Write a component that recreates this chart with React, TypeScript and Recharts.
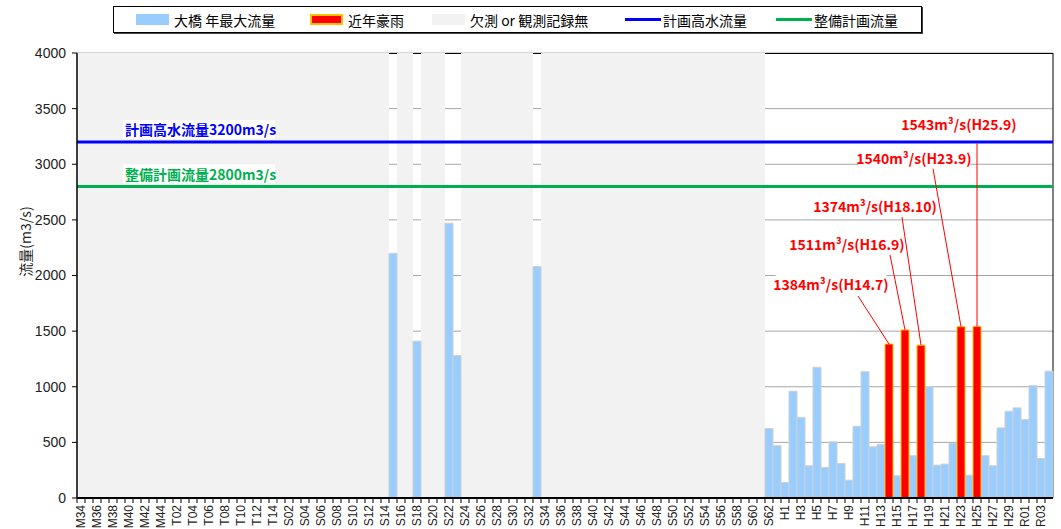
import React from "react";
import {
  BarChart,
  Bar,
  XAxis,
  YAxis,
  CartesianGrid,
  ReferenceLine,
  LabelList,
} from "recharts";

// 年（和暦）: M34(1901) 〜 R04(2022)
const meijiYears = ["M34", "M35", "M36", "M37", "M38", "M39", "M40", "M41", "M42", "M43", "M44", "M45"];
const taishoYears = ["T02", "T03", "T04", "T05", "T06", "T07", "T08", "T09", "T10", "T11", "T12", "T13", "T14", "T15"];
const showaYears = [
  "S02", "S03", "S04", "S05", "S06", "S07", "S08", "S09", "S10", "S11", "S12", "S13", "S14", "S15", "S16", "S17",
  "S18", "S19", "S20", "S21", "S22", "S23", "S24", "S25", "S26", "S27", "S28", "S29", "S30", "S31", "S32", "S33",
  "S34", "S35", "S36", "S37", "S38", "S39", "S40", "S41", "S42", "S43", "S44", "S45", "S46", "S47", "S48", "S49",
  "S50", "S51", "S52", "S53", "S54", "S55", "S56", "S57", "S58", "S59", "S60", "S61", "S62", "S63",
];
const heiseiYears = [
  "H1", "H2", "H3", "H4", "H5", "H6", "H7", "H8", "H9", "H10", "H11", "H12", "H13", "H14", "H15",
  "H16", "H17", "H18", "H19", "H20", "H21", "H22", "H23", "H24", "H25", "H26", "H27", "H28", "H29", "H30",
];
const reiwaYears = ["R01", "R02", "R03", "R04"];
const years = [...meijiYears, ...taishoYears, ...showaYears, ...heiseiYears, ...reiwaYears];

// 大橋 年最大流量 (m3/s)
const observedYears = [
  "S15", "S18", "S22", "S23", "S33",
  "S62", "S63", "H1", "H2", "H3", "H4", "H5", "H6", "H7", "H8", "H9", "H10", "H11", "H12", "H13",
  "H15", "H17", "H19", "H20", "H21", "H22", "H24", "H26", "H27", "H28", "H29", "H30",
  "R01", "R02", "R03", "R04",
];
const annualMax = [
  2200, 1410, 2470, 1280, 2080,
  625, 470, 140, 960, 725, 290, 1175, 275, 505, 310, 160, 645, 1135, 460, 480,
  200, 380, 1000, 295, 305, 490, 205, 380, 290, 630, 780, 810,
  705, 1010, 355, 1140,
];

// 近年豪雨
const heavyRainYears = ["H14", "H16", "H18", "H23", "H25"];
const heavyRainPeaks = [1384, 1511, 1374, 1540, 1543];
const heavyRainLabels = [
  "1384m³/s(H14.7)",
  "1511m³/s(H16.9)",
  "1374m³/s(H18.10)",
  "1540m³/s(H23.9)",
  "1543m³/s(H25.9)",
];

const yTicks = [0, 500, 1000, 1500, 2000, 2500, 3000, 3500, 4000];
const AXIS_MAX = 4000;
const PLAN_HIGH_WATER = 3200; // 計画高水流量
const PLAN_IMPROVEMENT = 2800; // 整備計画流量

// annotation placement relative to the top centre of each red bar
const rainLabelOffsets: Record<string, { lx: number; ly: number; tx: number; ty: number }> = {
  H14: { lx: -31, ly: -48, tx: -58, ty: -60 },
  H16: { lx: -15, ly: -75, tx: -58, ty: -86 },
  H18: { lx: -19, ly: -128, tx: -46, ty: -139 },
  H23: { lx: -28, ly: -158, tx: -47, ty: -169 },
  H25: { lx: 0, ly: -183, tx: -18, ty: -202 },
};

const JP_FONT = '"Noto Sans CJK JP", "Noto Sans", sans-serif';
const NUM_FONT = '"Liberation Sans", Arial, sans-serif';

const data = years.map((name) => {
  const oi = observedYears.indexOf(name);
  const ri = heavyRainYears.indexOf(name);
  const hasData = oi >= 0 || ri >= 0;
  return {
    name,
    flow: oi >= 0 ? annualMax[oi] : null,
    rain: ri >= 0 ? heavyRainPeaks[ri] : null,
    missing: hasData ? null : AXIS_MAX,
  };
});

const legendItems = [
  { label: "大橋 年最大流量", kind: "rect", fill: "#99CCFF", stroke: "#99CCFF", left: 22 },
  { label: "近年豪雨", kind: "rect", fill: "#FF0000", stroke: "#FFC000", left: 196 },
  { label: "欠測 or 観測記録無", kind: "rect", fill: "#F2F2F2", stroke: "#F2F2F2", left: 318 },
  { label: "計画高水流量", kind: "line", fill: "#0000FF", stroke: "#0000FF", left: 511 },
  { label: "整備計画流量", kind: "line", fill: "#00B050", stroke: "#00B050", left: 662 },
];

const YearTick = (props: any) => {
  const { x, y, payload, index } = props;
  const half = payload?.offset ?? 4;
  const i = payload?.index ?? index;
  return (
    <g>
      <line x1={x - half} y1={y} x2={x - half} y2={y + 5} stroke="#000" />
      {i % 2 === 0 && (
        <text
          x={x}
          y={y + 7}
          transform={`rotate(-90 ${x} ${y + 7})`}
          textAnchor="end"
          dominantBaseline="central"
          fontSize={12}
          fill="#222"
          fontFamily={NUM_FONT}
        >
          {payload.value}
        </text>
      )}
    </g>
  );
};

const PlanLabel = (props: any) => {
  const { viewBox, text, color } = props;
  if (!viewBox) return null;
  return (
    <g>
      <rect x={viewBox.x + 46} y={viewBox.y - 22} width={152} height={19} fill="#fff" />
      <text
        x={viewBox.x + 48}
        y={viewBox.y - 7}
        fill={color}
        fontSize={14}
        fontWeight="bold"
        fontFamily={JP_FONT}
      >
        {text}
      </text>
    </g>
  );
};

const RainLabel = (props: any) => {
  const vb = props.viewBox ?? props;
  const name = props.value;
  const i = heavyRainYears.indexOf(name);
  const off = rainLabelOffsets[name];
  if (i < 0 || !off || vb.x == null) return null;
  const cx = vb.x + vb.width / 2;
  const top = vb.y;
  const text = heavyRainLabels[i];
  const w = text.length * 7.4;
  return (
    <g>
      <line x1={cx} y1={top} x2={cx + off.lx} y2={top + off.ly} stroke="#FF0000" strokeWidth={1} />
      <rect x={cx + off.tx - w / 2} y={top + off.ty - 9} width={w} height={18} fill="#fff" />
      <text
        x={cx + off.tx}
        y={top + off.ty}
        textAnchor="middle"
        dominantBaseline="central"
        fill="#FF0000"
        fontSize={14}
        fontWeight="bold"
        fontFamily={JP_FONT}
      >
        {text}
      </text>
    </g>
  );
};

const YLabel = (props: any) => {
  const { viewBox } = props;
  if (!viewBox) return null;
  const cx = viewBox.x + 25;
  const cy = viewBox.y + viewBox.height / 2 - 34;
  return (
    <text
      x={cx}
      y={cy}
      transform={`rotate(-90 ${cx} ${cy})`}
      textAnchor="middle"
      dominantBaseline="central"
      fontSize={14}
      fill="#222"
      fontFamily={JP_FONT}
    >
      流量(m3/s)
    </text>
  );
};

const Legend = () => (
  <div
    style={{
      position: "absolute",
      left: 113,
      top: 6,
      width: 807,
      height: 25,
      border: "1px solid #000",
      boxShadow: "1px 1px 0 #444",
      background: "#fff",
      fontFamily: JP_FONT,
      fontSize: 14,
      color: "#000",
    }}
  >
    {legendItems.map((it) => (
      <div
        key={it.label}
        style={{ position: "absolute", left: it.left, top: 0, height: 25, display: "flex", alignItems: "center" }}
      >
        {it.kind === "rect" ? (
          <span
            style={{
              width: 33,
              height: 11,
              background: it.fill,
              border: `2px solid ${it.stroke}`,
              boxSizing: "border-box",
              marginRight: 5,
            }}
          />
        ) : (
          <span style={{ width: 36, height: 3, background: it.fill, marginRight: 2 }} />
        )}
        <span style={{ whiteSpace: "pre" }}>{it.label}</span>
      </div>
    ))}
  </div>
);

export default function App() {
  return (
    <div style={{ position: "absolute", left: 0, top: 0, width: 1061, height: 529, background: "#fff" }}>
      <BarChart
        width={1061}
        height={529}
        data={data}
        margin={{ top: 53, right: 8, bottom: 0, left: 0 }}
        barCategoryGap={0}
        barGap={0}
        style={{ fontFamily: NUM_FONT }}
      >
        <CartesianGrid vertical={false} stroke="#A6A6A6" strokeWidth={1} />
        {/* plot frame (top / right), sits under the bars like the gridlines */}
        <CartesianGrid
          stroke="#000"
          strokeWidth={1}
          horizontalCoordinatesGenerator={({ offset }: any) => [offset.top + 0.5]}
          verticalCoordinatesGenerator={({ offset }: any) => [offset.left + offset.width]}
        />
        <Bar dataKey="missing" stackId="a" fill="#F2F2F2" isAnimationActive={false} />
        <Bar dataKey="flow" stackId="a" fill="#99CCFF" stroke="#D0D0D0" strokeWidth={1} isAnimationActive={false} />
        <Bar dataKey="rain" stackId="a" fill="#FF0000" stroke="#FFC000" strokeWidth={1} isAnimationActive={false}>
          <LabelList dataKey="name" content={RainLabel} />
        </Bar>
        <ReferenceLine
          y={PLAN_HIGH_WATER}
          stroke="#0000FF"
          strokeWidth={3}
          label={<PlanLabel text="計画高水流量3200m3/s" color="#0000FF" />}
        />
        <ReferenceLine
          y={PLAN_IMPROVEMENT}
          stroke="#00B050"
          strokeWidth={3}
          label={<PlanLabel text="整備計画流量2800m3/s" color="#00B050" />}
        />
        <XAxis
          dataKey="name"
          interval={0}
          height={31}
          tickSize={0}
          tickMargin={0}
          tickLine={false}
          axisLine={{ stroke: "#000", strokeWidth: 2 }}
          tick={<YearTick />}
        />
        <YAxis
          domain={[0, AXIS_MAX]}
          ticks={yTicks}
          interval={0}
          width={77}
          tickSize={5}
          tickMargin={6}
          allowDataOverflow
          axisLine={{ stroke: "#000", strokeWidth: 1.5 }}
          tickLine={{ stroke: "#000" }}
          tick={{ fill: "#222", fontSize: 14, fontFamily: NUM_FONT }}
          label={<YLabel />}
        />
      </BarChart>
      <Legend />
    </div>
  );
}
